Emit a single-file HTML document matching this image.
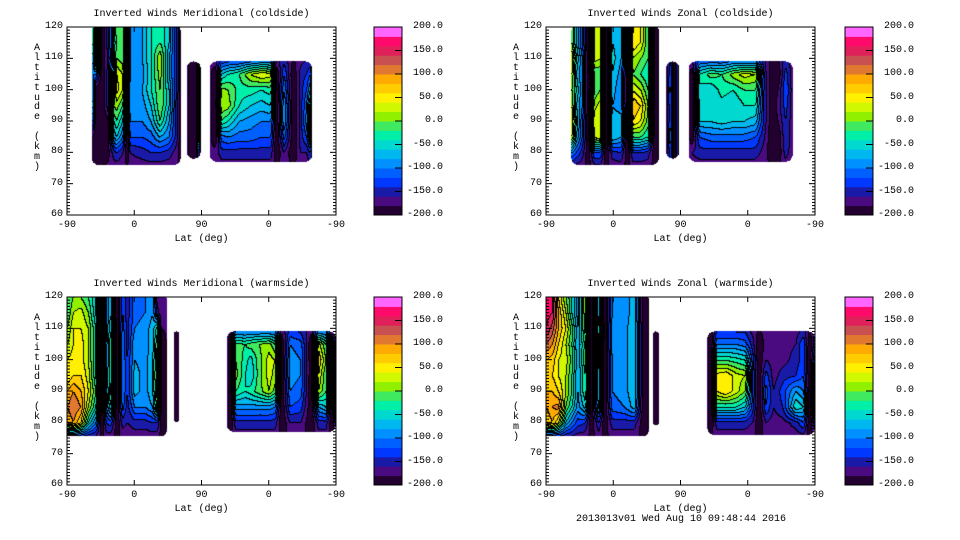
<!DOCTYPE html>
<html><head><meta charset="utf-8">
<style>
html,body{margin:0;padding:0;background:#fff;}
#root{position:relative;width:960px;height:540px;overflow:hidden;background:#fff;font-family:"Liberation Mono","DejaVu Sans Mono",monospace;font-size:10px;color:#000;}
.abs{position:absolute;white-space:nowrap;}
canvas{position:absolute;}
</style></head>
<body>
<div id="root"></div>
<script>
// ---- Shared data ----
var altRows = [75,80,85,90,95,100,105,110,115,120];
var colorLevels = [-200,-180,-160,-140,-120,-100,-80,-60,-40,-20,0,20,40,60,80,100,120,140,160,180];
var colorbarTicks = [-200,-150,-100,-50,0,50,100,150,200];
var latTickPos = [0,90,180,270,360];
var latTickLabels = ["-90","0","90","0","-90"];
var altTicks = [60,70,80,90,100,110,120];
var bandColors = ["#220030","#4a0a80","#1a1aa8","#0038ff","#0060ff","#0090ff","#00b8f0","#00d8d0","#00f0a8","#40ea60","#90f000","#d0f800","#fff000","#ffcc00","#ffaa00","#e07830","#c85050","#e0205a","#ff0a6a","#ff66ff"];

var tlCols1 = [33,38,46,54,62,66,74,80,84,100,112,124,136,146,152];
var tlVals1 = [
[-175,-190,-180,-100,-40,-60,-100,-100,-60,-60],
[-175,-200,-200,-200,-200,-200,-100,30,40,30],
[-175,-200,-200,-200,-200,-200,-200,-200,-200,-200],
[-175,-190,-190,-190,-150,-150,-150,-160,-150,-150],
[-175,-150,-80,-40,0,-20,-40,-60,-60,-60],
[-175,-140,-60,-20,10,50,40,0,-10,0],
[-175,-160,-100,-60,-20,20,20,-10,0,0],
[-175,-200,-200,-200,-200,-200,-200,-200,-200,-200],
[-175,-160,-120,-100,-80,-80,-100,-100,-100,-100],
[-175,-150,-120,-100,-90,-80,-90,-80,-80,-80],
[-175,-140,-110,-80,-60,-40,-40,-40,-40,-40],
[-175,-140,-80,-20,0,0,10,20,-20,-20],
[-175,-150,-100,-80,-60,-60,-80,-80,-60,-60],
[-175,-170,-150,-150,-150,-140,-140,-140,-140,-140],
[-190,-200,-200,-200,-200,-200,-200,-200,-200,-200]];
var tlCols2 = [160,166,172,175,179];
var tlVals2 = [
[-170,-170,-170,-170,-170,-170,-170,-170,-170,-170],
[-200,-200,-200,-200,-200,-200,-200,-200,-200,-200],
[-200,-200,-200,-200,-200,-200,-200,-200,-200,-200],
[-150,-150,40,60,60,120,100,-100,-150,-150],
[-170,-170,-170,-170,-170,-170,-170,-170,-170,-170]];
var tlCols3 = [191,198,206,215,230,245,260,272,280,290,302,312,320,325,328];
var tlVals3 = [
[-175,-175,-175,-175,-175,-175,-175,-175,-175,-175],
[-175,-170,-200,-200,-200,-200,-200,-160,-175,-175],
[-175,-150,-110,-20,20,10,-60,-150,-175,-175],
[-175,-150,-100,-40,10,0,-40,-140,-175,-175],
[-175,-150,-110,-80,-40,-30,-20,-140,-175,-175],
[-175,-150,-110,-90,-60,-30,20,-130,-175,-175],
[-175,-150,-120,-100,-70,-40,40,-120,-175,-175],
[-175,-150,-120,-100,-60,-30,30,-120,-175,-175],
[-175,-200,-200,-200,-200,-200,-200,-160,-175,-175],
[-175,-160,-110,-80,-80,-100,-120,-150,-175,-175],
[-175,-200,-200,-200,-200,-200,-200,-180,-175,-175],
[-175,-160,-150,-150,-150,-150,-150,-170,-175,-175],
[-175,-160,-120,-90,-100,-120,-140,-160,-175,-175],
[-175,-140,-60,-10,-30,-80,-120,-160,-175,-175],
[-175,-175,-175,-175,-175,-175,-175,-175,-175,-175]];

var trCols1 = [34,40,48,56,64,72,80,88,100,108,116,126,136,145,151];
var trVals1 = [
[-175,-100,20,40,20,0,20,40,0,0],
[-175,-120,-60,-40,-60,-40,-60,-40,-60,-60],
[-175,-150,-120,-120,-100,-100,-100,-100,-120,-120],
[-185,-200,-200,-200,-200,-200,-200,-200,-200,-200],
[-175,-120,20,40,10,-20,-20,30,30,20],
[-175,-120,40,40,30,0,-20,20,40,30],
[-185,-200,-200,-200,-200,-200,-200,-200,-200,-200],
[-175,-150,-60,-70,-80,-70,-60,-50,-60,-60],
[-175,-140,-80,-70,-90,-100,-90,-80,-70,-70],
[-185,-200,-200,-200,-200,-200,-200,-200,-200,-200],
[-175,-140,-20,60,80,40,0,20,60,40],
[-175,-140,-20,40,60,20,-20,0,40,40],
[-175,-150,-40,-10,0,-20,-40,-20,-20,-20],
[-185,-200,-200,-200,-200,-200,-200,-200,-200,-200],
[-175,-175,-175,-175,-175,-175,-175,-175,-175,-175]];
var trCols2 = [161,166,171,175,178];
var trVals2 = [
[-170,-170,-170,-170,-170,-170,-170,-170,-170,-170],
[-130,-130,-100,-120,-120,-110,-120,-140,-170,-170],
[-200,-200,-200,-200,-200,-200,-200,-200,-200,-200],
[-150,-150,-150,-150,-150,-150,-150,-150,-150,-150],
[-170,-170,-170,-170,-170,-170,-170,-170,-170,-170]];
var trCols3 = [191,195,205,220,235,250,265,280,292,302,310,320,330];
var trVals3 = [
[-175,-175,-175,-175,-175,-175,-175,-175,-175,-175],
[-170,-160,-200,-200,-200,-200,-200,-150,-175,-175],
[-175,-150,-120,-60,-50,-40,-40,-130,-175,-175],
[-175,-150,-110,-60,-50,-60,-10,-130,-175,-175],
[-175,-150,-110,-50,-50,-30,-20,-130,-175,-175],
[-175,-150,-110,-60,-60,-40,10,-120,-175,-175],
[-175,-150,-110,-60,-40,-20,30,-120,-175,-175],
[-175,-150,-120,-70,-40,-20,20,-120,-175,-175],
[-175,-170,-160,-150,-150,-150,-150,-160,-175,-175],
[-175,-200,-200,-200,-200,-200,-200,-190,-175,-175],
[-175,-200,-200,-180,-170,-180,-200,-180,-175,-175],
[-175,-150,-140,-140,-130,-120,-130,-150,-175,-175],
[-175,-175,-175,-175,-175,-175,-175,-175,-175,-175]];

var blCols1 = [0,8,18,28,38,46,52,58,66,74,80,90,104,114,120,126,134];
var blVals1 = [
[-160,80,100,80,40,40,20,0,-20,-20],
[-170,100,120,100,60,50,40,40,20,0],
[-170,60,100,80,60,50,50,40,30,0],
[-170,-40,20,40,30,20,20,20,0,-20],
[-170,-100,-40,-20,-40,-40,-40,-40,-60,-60],
[-185,-200,-200,-200,-200,-200,-200,-200,-200,-200],
[-175,-140,-100,-90,-80,-80,-90,-100,-100,-100],
[-175,-130,-40,-10,-20,-30,-20,-40,-60,-60],
[-185,-200,-200,-200,-200,-200,-200,-200,-200,-200],
[-175,-150,-110,-100,-100,-100,-100,-110,-120,-120],
[-175,-160,-150,-140,-140,-140,-150,-150,-150,-150],
[-175,-150,-100,-70,-70,-80,-80,-100,-110,-110],
[-175,-150,-100,-90,-90,-90,-90,-90,-100,-100],
[-175,-140,-80,-60,-60,-60,-70,-70,-80,-80],
[-175,-140,-10,10,20,10,0,-30,-150,-170],
[-185,-200,-200,-200,-200,-200,-200,-180,-175,-175],
[-175,-175,-175,-175,-175,-175,-175,-175,-175,-175]];
var blCols2 = [143,146,150];
var blVals2 = [
[-180,-180,-180,-180,-180,-180,-180,-180,-180,-180],
[-200,-200,-200,-200,-200,-200,-200,-200,-200,-200],
[-180,-180,-180,-180,-180,-180,-180,-180,-180,-180]];
var blCols3 = [214,218,225,238,245,256,270,278,287,298,312,326,336,346,354,360];
var blVals3 = [
[-175,-175,-175,-175,-175,-175,-175,-175,-175,-175],
[-175,-200,-200,-200,-200,-200,-200,-170,-175,-175],
[-175,-150,-90,-20,10,0,-10,-120,-175,-175],
[-175,-150,-90,-40,-40,-30,-20,-120,-175,-175],
[-175,-150,-90,-30,-60,-50,-10,-120,-175,-175],
[-175,-150,-90,-10,-10,-10,0,-120,-175,-175],
[-175,-150,-90,20,30,30,10,-120,-175,-175],
[-175,-150,-100,-10,10,20,-20,-120,-175,-175],
[-185,-200,-200,-200,-200,-200,-200,-170,-175,-175],
[-175,-160,-120,-100,-90,-90,-100,-140,-175,-175],
[-175,-160,-130,-110,-100,-100,-110,-150,-175,-175],
[-185,-200,-200,-200,-200,-200,-200,-170,-175,-175],
[-175,-150,-80,20,40,60,30,-120,-175,-175],
[-175,-150,-60,-20,-20,0,-20,-120,-175,-175],
[-185,-200,-200,-200,-200,-200,-200,-170,-175,-175],
[-175,-150,-60,-40,-40,-60,-100,-160,-175,-175]];

var brCols1 = [0,8,16,26,34,42,52,60,70,78,88,104,118,130,138];
var brVals1 = [
[-160,60,80,80,80,80,120,160,170,170],
[-170,80,100,80,60,70,100,130,160,160],
[-170,40,110,60,40,40,60,80,80,60],
[-170,-60,0,20,20,30,20,40,20,0],
[-170,-100,-40,-20,-20,-10,-20,-10,-40,-40],
[-175,-130,-90,-80,-80,-80,-80,-80,-90,-90],
[-175,-140,-50,-20,-20,0,-10,10,20,20],
[-185,-200,-200,-200,-200,-200,-200,-200,-200,-200],
[-175,-140,-70,-60,-60,-50,-50,-40,-60,-60],
[-185,-200,-200,-200,-200,-200,-200,-200,-200,-200],
[-175,-150,-110,-100,-100,-100,-90,-90,-100,-100],
[-175,-150,-100,-90,-90,-90,-90,-90,-90,-90],
[-175,-150,-70,-60,-60,-60,-60,-60,-70,-70],
[-185,-200,-200,-200,-200,-200,-200,-200,-200,-200],
[-175,-175,-175,-175,-175,-175,-175,-175,-175,-175]];
var brCols2 = [143,147,151];
var brVals2 = [
[-190,-190,-190,-190,-190,-190,-190,-190,-190,-190],
[-200,-200,-200,-200,-200,-200,-200,-200,-200,-200],
[-190,-190,-190,-190,-190,-190,-190,-190,-190,-190]];
var brCols3 = [216,220,228,240,254,266,276,284,294,304,316,334,344,352,360];
var brVals3 = [
[-175,-175,-175,-175,-175,-175,-175,-175,-175,-175],
[-175,-200,-200,-200,-200,-200,-200,-190,-175,-175],
[-175,-150,-40,40,50,-20,-100,-150,-175,-175],
[-175,-150,-40,60,60,-20,-100,-150,-175,-175],
[-175,-150,-40,30,30,-30,-100,-150,-175,-175],
[-175,-150,-60,0,20,-40,-110,-150,-175,-175],
[-175,-160,-130,-120,-120,-130,-150,-170,-175,-175],
[-185,-200,-200,-200,-200,-200,-200,-180,-175,-175],
[-175,-160,-120,-110,-130,-160,-170,-170,-175,-175],
[-175,-170,-160,-160,-170,-170,-170,-175,-175,-175],
[-175,-170,-140,-130,-150,-170,-170,-170,-175,-175],
[-175,-150,-40,-80,-140,-150,-160,-170,-175,-175],
[-175,-120,-60,-100,-120,-130,-120,-160,-175,-175],
[-185,-200,-200,-200,-200,-200,-200,-180,-175,-175],
[-175,-140,-60,-40,-60,-100,-140,-160,-175,-175]];

var panels = [
 {name:"meridional-coldside", title:"Inverted Winds Meridional (coldside)", px:67, py:27, cbx:374,
  blocks:[{cols:tlCols1,vals:tlVals1,bottom:76,top:121},{cols:tlCols2,vals:tlVals2,bottom:78,top:109},{cols:tlCols3,vals:tlVals3,bottom:77,top:109}]},
 {name:"zonal-coldside", title:"Inverted Winds Zonal (coldside)", px:546, py:27, cbx:845,
  blocks:[{cols:trCols1,vals:trVals1,bottom:76,top:121},{cols:trCols2,vals:trVals2,bottom:78,top:109},{cols:trCols3,vals:trVals3,bottom:77,top:109}]},
 {name:"meridional-warmside", title:"Inverted Winds Meridional (warmside)", px:67, py:297, cbx:374,
  blocks:[{cols:blCols1,vals:blVals1,bottom:75.5,top:121},{cols:blCols2,vals:blVals2,bottom:80,top:109},{cols:blCols3,vals:blVals3,bottom:77,top:109}]},
 {name:"zonal-warmside", title:"Inverted Winds Zonal (warmside)", px:546, py:297, cbx:845,
  blocks:[{cols:brCols1,vals:brVals1,bottom:75.5,top:121},{cols:brCols2,vals:brVals2,bottom:79,top:109},{cols:brCols3,vals:brVals3,bottom:76,top:109}]}
];

var PW=269, PH=188, TMAX=360, AMIN=60, AMAX=120, RAD=7;
var root=document.getElementById('root');
function xs(t){return t/TMAX*PW;}
function ys(a){return (AMAX-a)/(AMAX-AMIN)*PH;}
function tOf(px){return px/PW*TMAX;}
function aOf(py){return AMAX-py/PH*(AMAX-AMIN);}
function inRounded(B,px,py){
  var c=B.cols, x0=xs(c[0]), x1=xs(c[c.length-1]), y0=ys(B.top), y1=ys(B.bottom);
  var r=Math.min(RAD,(x1-x0)/2,(y1-y0)/2);
  var cx=px<x0+r?x0+r:(px>x1-r?x1-r:px);
  var cy=py<y0+r?y0+r:(py>y1-r?y1-r:py);
  if(x0<=0.5&&px<x0+r) cx=px; // flush with axis: no rounding
  var dx=px-cx, dy=py-cy; return dx*dx+dy*dy<=r*r;
}
function sample(blocks,px,py){
  var t=tOf(px), a=aOf(py);
  for(var b=0;b<blocks.length;b++){
    var B=blocks[b], c=B.cols;
    if(t<c[0]||t>c[c.length-1]||a<B.bottom||a>B.top) continue;
    if(!inRounded(B,px,py)) continue;
    var i=0; while(i<c.length-2&&t>c[i+1]) i++;
    var ft=(t-c[i])/(c[i+1]-c[i]);
    var r=(a-altRows[0])/5; if(r<0)r=0; var j=Math.min(Math.floor(r),altRows.length-2); var fa=r-j; if(fa>1)fa=1;
    var v0=B.vals[i][j]*(1-fa)+B.vals[i][j+1]*fa;
    var v1=B.vals[i+1][j]*(1-fa)+B.vals[i+1][j+1]*fa;
    return {b:b,v:v0*(1-ft)+v1*ft};
  }
  return null;
}
function band(v){var k=Math.floor((v-colorLevels[0])/20);return Math.max(0,Math.min(colorLevels.length-1,k));}
function hex(h){return [parseInt(h.substr(1,2),16),parseInt(h.substr(3,2),16),parseInt(h.substr(5,2),16)];}
var rgb=bandColors.map(hex);
function txt(s,x,y,align,name){
  var d=document.createElement('div'); d.className='abs'; d.textContent=s;
  
  
  d.style.top=(y-6)+'px';
  if(align==='r'){d.style.right=(960-x)+'px';}
  else if(align==='c'){d.style.left=(x-200)+'px';d.style.width='400px';d.style.textAlign='center';}
  else d.style.left=x+'px';
  root.appendChild(d); return d;
}

panels.forEach(function(P){
  var g=document.createElement('div');
  
  
  root.appendChild(g);
  var cv=document.createElement('canvas'); cv.width=PW; cv.height=PH;
  cv.style.left=P.px+'px'; cv.style.top=P.py+'px';
  
  
  g.appendChild(cv);
  var ctx=cv.getContext('2d'); var img=ctx.createImageData(PW,PH); var D=img.data;
  var bands=new Array(PW*PH), blk=new Array(PW*PH);
  for(var y=0;y<PH;y++)for(var x=0;x<PW;x++){
    var s=sample(P.blocks,x+0.5,y+0.5); var k=y*PW+x;
    if(s){bands[k]=band(s.v);blk[k]=s.b;} else {bands[k]=-1;blk[k]=-1;}
  }
  for(var y=0;y<PH;y++)for(var x=0;x<PW;x++){
    var k=y*PW+x,o=k*4; var bd=bands[k];
    if(bd<0){D[o]=D[o+1]=D[o+2]=255;D[o+3]=255;continue;}
    var line=false;
    if(x>0&&blk[k-1]===blk[k]&&bands[k-1]!==bd) line=true;
    if(y>0&&blk[k-PW]===blk[k]&&bands[k-PW]!==bd) line=true;
    var c=line?[0,0,0]:rgb[bd];
    D[o]=c[0];D[o+1]=c[1];D[o+2]=c[2];D[o+3]=255;
  }
  ctx.putImageData(img,0,0);
  var ns='http://www.w3.org/2000/svg';
  var sv=document.createElementNS(ns,'svg');
  sv.setAttribute('width',PW+2); sv.setAttribute('height',PH+2);
  sv.style.position='absolute'; sv.style.left=(P.px-1)+'px'; sv.style.top=(P.py-1)+'px';
  
  
  g.appendChild(sv);
  var h='<rect x="1" y="1" width="'+PW+'" height="'+PH+'" fill="none" stroke="#000" stroke-width="1"/>';
  for(var a=AMIN;a<=AMAX;a++){
    var yy=ys(a)+1, L=(a%10===0)?6:3;
    h+='<line x1="1" x2="'+(1+L)+'" y1="'+yy+'" y2="'+yy+'" stroke="#000"/>';
    h+='<line x1="'+(PW+1-L)+'" x2="'+(PW+1)+'" y1="'+yy+'" y2="'+yy+'" stroke="#000"/>';
  }
  latTickPos.forEach(function(t){var xx=xs(t)+1;
    h+='<line x1="'+xx+'" x2="'+xx+'" y1="'+(PH+1)+'" y2="'+(PH-4)+'" stroke="#000"/>';
    h+='<line x1="'+xx+'" x2="'+xx+'" y1="1" y2="6" stroke="#000"/>';});
  sv.innerHTML=h;
  txt(P.title,P.px+PW/2,P.py-12,'c',P.name+'-title');
  altTicks.forEach(function(a){txt(String(a),P.px-4,P.py+ys(a),'r','y-tick-label');});
  latTickPos.forEach(function(t,i){txt(latTickLabels[i],P.px+xs(t),P.py+PH+11,'c','x-tick-label');});
  txt('Lat (deg)',P.px+PW/2,P.py+PH+25,'c','x-axis-title');
  var yl=document.createElement('div'); yl.className='abs';
  
  
  yl.style.left=(P.px-34)+'px'; yl.style.top=(P.py+17)+'px'; yl.style.width='8px';
  yl.style.whiteSpace='normal'; yl.style.lineHeight='9.9px'; yl.style.textAlign='center';
  yl.innerHTML='Altitude (km)'.split('').map(function(ch){return ch===' '?'&nbsp;':ch;}).join('<br>');
  root.appendChild(yl);
  var cb=document.createElementNS(ns,'svg');
  cb.setAttribute('width',30); cb.setAttribute('height',PH+2);
  cb.style.position='absolute'; cb.style.left=(P.cbx-1)+'px'; cb.style.top=(P.py-1)+'px';
  
  
  var ch='', bh=PH/colorLevels.length;
  colorLevels.forEach(function(lv,i){var y0=PH-(i+1)*bh+1;
    ch+='<rect x="1" y="'+y0+'" width="28" height="'+(bh+0.5)+'" fill="'+bandColors[i]+'"/>';});
  ch+='<rect x="1" y="1" width="28" height="'+PH+'" fill="none" stroke="#000"/>';
  colorbarTicks.forEach(function(v){var yy=1+PH*(200-v)/400; ch+='<line x1="22" x2="29" y1="'+yy+'" y2="'+yy+'" stroke="#000"/>';});
  cb.innerHTML=ch; g.appendChild(cb);
  colorbarTicks.forEach(function(v){txt(v.toFixed(1),P.cbx+69,P.py+PH*(200-v)/400,'r','colorbar-label');});
});
txt('2013013v01 Wed Aug 10 09:48:44 2016',681,520,'c','timestamp');
</script>
</body></html>
